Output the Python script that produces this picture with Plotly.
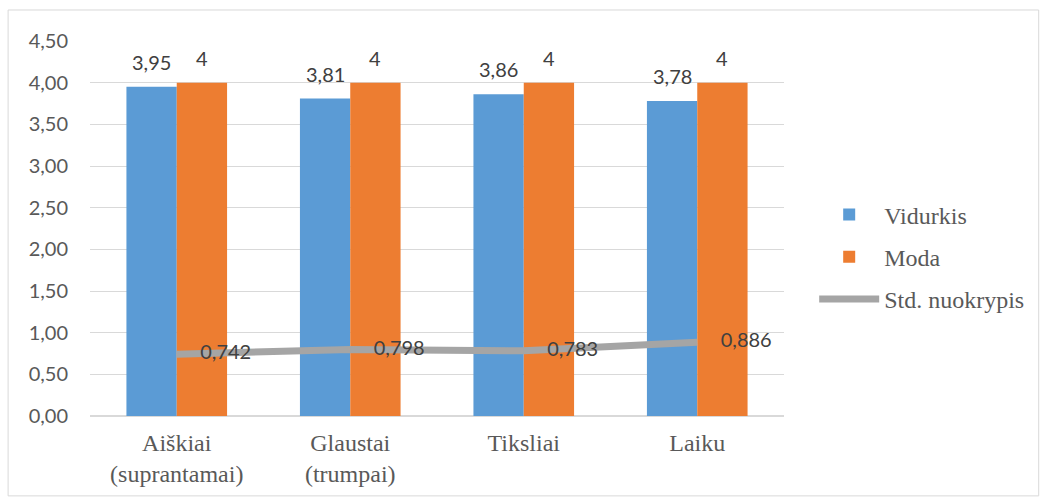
import plotly.graph_objects as go

categories = ["Aiškiai<br>(suprantamai)", "Glaustai<br>(trumpai)", "Tiksliai", "Laiku"]
vidurkis = [3.95, 3.81, 3.86, 3.78]
moda = [4, 4, 4, 4]
std = [0.742, 0.798, 0.783, 0.886]
vid_labels = ["3,95", "3,81", "3,86", "3,78"]
moda_labels = ["4", "4", "4", "4"]
std_labels = ["0,742", "0,798", "0,783", "0,886"]
y_ticks = [0, 0.5, 1, 1.5, 2, 2.5, 3, 3.5, 4, 4.5]
y_ticktext = ["0,00", "0,50", "1,00", "1,50", "2,00", "2,50", "3,00", "3,50", "4,00", "4,50"]

fig = go.Figure()
fig.add_trace(go.Bar(x=categories, y=vidurkis, name="Vidurkis",
                     marker=dict(color="#5B9BD5", line=dict(width=0)),
                     legendgroup="a"))
fig.add_trace(go.Bar(x=categories, y=moda, name="Moda",
                     marker=dict(color="#ED7D31", line=dict(width=0)),
                     legendgroup="b"))
fig.add_trace(go.Scatter(x=categories, y=std, name="Std. nuokrypis",
                         mode="lines+markers+text",
                         line=dict(color="#A5A5A5", width=7),
                         marker=dict(size=36, color="rgba(0,0,0,0)", line=dict(width=0)),
                         text=std_labels, textposition="middle right",
                         textfont=dict(family="Lato", size=20, color="#404040"),
                         legendgroup="c"))

for i, c in enumerate(categories):
    fig.add_annotation(x=c, y=vidurkis[i], text=vid_labels[i], showarrow=False,
                       xshift=-25, yshift=25, font=dict(family="Lato", size=20, color="#404040"))
    fig.add_annotation(x=c, y=moda[i], text=moda_labels[i], showarrow=False,
                       xshift=25, yshift=25, font=dict(family="Lato", size=20, color="#404040"))

fig.add_shape(type="rect", xref="paper", yref="paper",
              x0=-0.118, x1=1.367, y0=-0.213, y1=1.0827,
              line=dict(color="#D9D9D9", width=1), layer="below")

fig.update_layout(
    width=1041, height=497,
    margin=dict(l=90, r=256, t=41, b=81),
    paper_bgcolor="white", plot_bgcolor="white",
    barmode="group", bargap=0.42, bargroupgap=0,
    showlegend=True,
    legend=dict(x=1.042, y=0.596, xanchor="left", yanchor="top",
                font=dict(family="Liberation Serif", size=24, color="#595959"),
                traceorder="grouped", tracegroupgap=8, itemwidth=60),
    xaxis=dict(tickfont=dict(family="Liberation Serif", size=24, color="#595959"),
               showgrid=False, showline=False, ticks="", ticklabelstandoff=10,
               automargin=False),
    yaxis=dict(range=[0, 4.5], tickvals=y_ticks, ticktext=y_ticktext,
               tickfont=dict(family="Lato", size=20, color="#595959"),
               showgrid=True, gridcolor="#D9D9D9", gridwidth=1,
               zeroline=True, zerolinecolor="#D9D9D9", zerolinewidth=2,
               showline=False, ticks="", ticklabelstandoff=21, automargin=False),
)

fig.write_html("out.html")
